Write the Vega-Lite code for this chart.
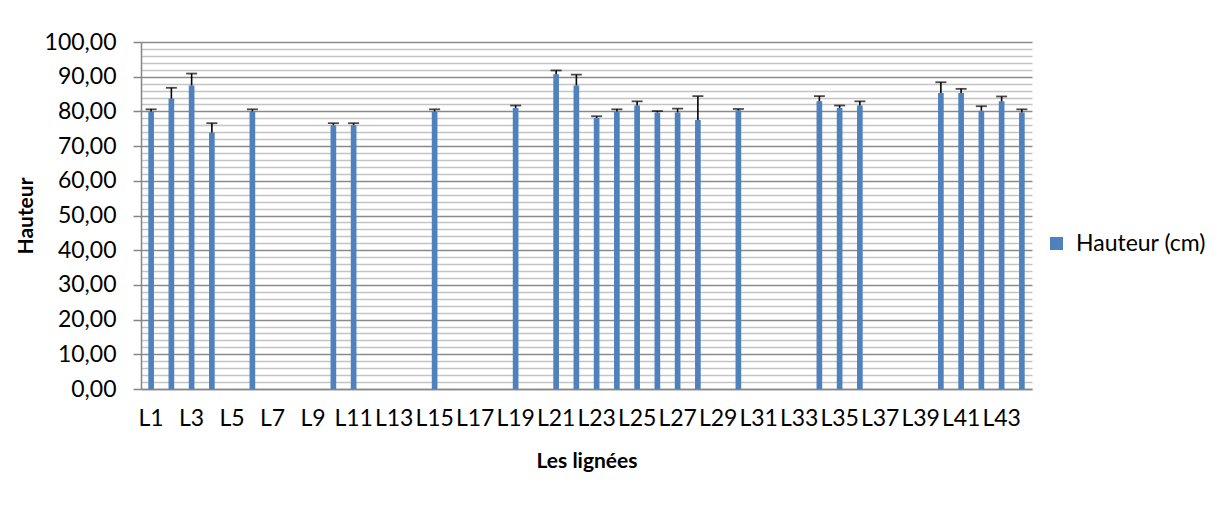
{
  "$schema": "https://vega.github.io/schema/vega-lite/v6.json",
  "width": 891,
  "height": 347,
  "autosize": {"type": "none"},
  "padding": {"left": 141, "top": 42, "right": 186, "bottom": 127},
  "background": "white",
  "config": {
    "view": {"stroke": null},
    "font": "Lato",
    "axis": {"labelFont": "Lato", "titleFont": "Lato", "labelColor": "#000000", "titleColor": "#000000"}
  },
  "data": {
    "values": [
      {"ligne": "L1", "hauteur": 80.0, "sup": 80.6},
      {"ligne": "L2", "hauteur": 83.7, "sup": 86.8},
      {"ligne": "L3", "hauteur": 87.5, "sup": 90.9},
      {"ligne": "L4", "hauteur": 73.9, "sup": 76.6},
      {"ligne": "L6", "hauteur": 80.0, "sup": 80.6},
      {"ligne": "L10", "hauteur": 76.0, "sup": 76.6},
      {"ligne": "L11", "hauteur": 76.0, "sup": 76.6},
      {"ligne": "L15", "hauteur": 80.0, "sup": 80.6},
      {"ligne": "L19", "hauteur": 81.0, "sup": 81.7},
      {"ligne": "L21", "hauteur": 90.7, "sup": 91.8},
      {"ligne": "L22", "hauteur": 87.5, "sup": 90.6},
      {"ligne": "L23", "hauteur": 78.1, "sup": 78.6},
      {"ligne": "L24", "hauteur": 80.0, "sup": 80.6},
      {"ligne": "L25", "hauteur": 81.7, "sup": 82.9},
      {"ligne": "L26", "hauteur": 79.7, "sup": 80.1},
      {"ligne": "L27", "hauteur": 79.7, "sup": 80.8},
      {"ligne": "L28", "hauteur": 77.5, "sup": 84.4},
      {"ligne": "L30", "hauteur": 80.3, "sup": 80.7},
      {"ligne": "L34", "hauteur": 82.9, "sup": 84.4},
      {"ligne": "L35", "hauteur": 81.0, "sup": 81.7},
      {"ligne": "L36", "hauteur": 81.7, "sup": 82.9},
      {"ligne": "L40", "hauteur": 85.3, "sup": 88.4},
      {"ligne": "L41", "hauteur": 85.3, "sup": 86.5},
      {"ligne": "L42", "hauteur": 80.2, "sup": 81.5},
      {"ligne": "L43", "hauteur": 82.9, "sup": 84.3},
      {"ligne": "L44", "hauteur": 79.7, "sup": 80.6}
    ]
  },
  "encoding": {
    "x": {
      "field": "ligne",
      "type": "nominal",
      "sort": null,
      "scale": {
        "domain": ["L1","L2","L3","L4","L5","L6","L7","L8","L9","L10","L11","L12","L13","L14","L15","L16","L17","L18","L19","L20","L21","L22","L23","L24","L25","L26","L27","L28","L29","L30","L31","L32","L33","L34","L35","L36","L37","L38","L39","L40","L41","L42","L43","L44"],
        "paddingInner": 0,
        "paddingOuter": 0
      },
      "axis": {
        "values": ["L1","L3","L5","L7","L9","L11","L13","L15","L17","L19","L21","L23","L25","L27","L29","L31","L33","L35","L37","L39","L41","L43"],
        "title": "Les lignées",
        "titleFontSize": 21,
        "titleFontWeight": "bold",
        "titlePadding": 20,
        "labelAngle": 0,
        "labelFontSize": 23,
        "labelPadding": 18,
        "labelOverlap": false,
        "ticks": false,
        "grid": false,
        "domainColor": "#868686",
        "domainWidth": 1.5
      }
    }
  },
  "resolve": {"axis": {"y": "independent"}},
  "layer": [
    {
      "mark": {"type": "bar", "width": {"band": 0.28}},
      "encoding": {
        "y": {
          "field": "hauteur",
          "type": "quantitative",
          "scale": {"domain": [0, 100], "nice": false, "zero": true},
          "axis": {
            "title": "Hauteur",
            "orient": "left",
            "titleFontSize": 21,
            "titleFontWeight": "bold",
            "titlePadding": 8,
            "values": [0,2,4,6,8,10,12,14,16,18,20,22,24,26,28,30,32,34,36,38,40,42,44,46,48,50,52,54,56,58,60,62,64,66,68,70,72,74,76,78,80,82,84,86,88,90,92,94,96,98,100],
            "labelExpr": "datum.value % 10 === 0 ? replace(format(datum.value, '.2f'), '.', ',') : ''",
            "labelFontSize": 23,
            "labelPadding": 17,
            "labelOverlap": false,
            "labelBound": false,
            "tickSize": 8,
            "tickColor": "#868686",
            "tickWidth": 1.5,
            "tickOpacity": {"condition": {"test": "datum.value % 10 === 0", "value": 1}, "value": 0},
            "grid": true,
            "gridColor": {"condition": {"test": "datum.value % 10 === 0", "value": "#8a8a8a"}, "value": "#c4c4c4"},
            "gridWidth": 1.5,
            "domainColor": "#868686",
            "domainWidth": 1.5
          }
        },
        "color": {
          "datum": "Hauteur (cm)",
          "type": "nominal",
          "scale": {"range": ["#4F81BD"]},
          "legend": {
            "title": null,
            "orient": "none",
            "legendX": 904,
            "legendY": 190,
            "padding": 0,
            "symbolType": "square",
            "symbolSize": 170,
            "symbolStrokeWidth": 0,
            "labelFont": "Lato",
            "labelFontSize": 23,
            "labelColor": "#000000",
            "labelOffset": 8
          }
        }
      }
    },
    {
      "mark": {"type": "rule", "color": "#000000", "strokeWidth": 1.6},
      "encoding": {
        "y": {"field": "hauteur", "type": "quantitative", "scale": {"domain": [0, 100], "nice": false, "zero": true}, "axis": null},
        "y2": {"field": "sup"}
      }
    },
    {
      "mark": {"type": "tick", "color": "#000000", "size": 11, "thickness": 1.8},
      "encoding": {
        "y": {"field": "sup", "type": "quantitative", "scale": {"domain": [0, 100], "nice": false, "zero": true}, "axis": null}
      }
    }
  ]
}
